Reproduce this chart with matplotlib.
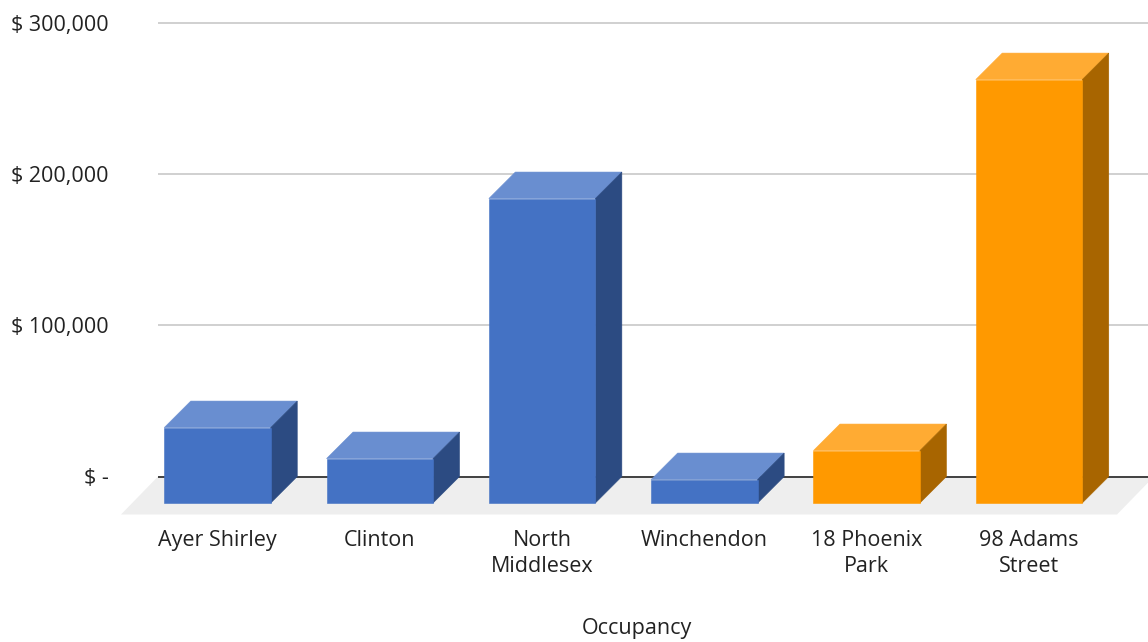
import matplotlib
matplotlib.use("Agg")
import matplotlib.pyplot as plt

categories = ["Ayer Shirley", "Clinton", "North\nMiddlesex", "Winchendon", "18 Phoenix\nPark", "98 Adams\nStreet"]
values = [49900, 29400, 201400, 15500, 34700, 280100]
face_colors = ["#4472C4"] * 4 + ["#FF9900"] * 2
top_colors = ["#698ED0"] * 4 + ["#FFAB33"] * 2
side_colors = ["#2C4B82"] * 4 + ["#A86500"] * 2
y_ticks = [0, 100000, 200000, 300000]
y_labels = ["$ -", "$ 100,000", "$ 200,000", "$ 300,000"]

W, H = 1148, 642
plt.rcParams["font.family"] = ["Open Sans", "DejaVu Sans"]

fig = plt.figure(figsize=(W / 100, H / 100), dpi=100)
# axes: left edge is the back wall, top is 300k, bottom is the front of the floor
ax = fig.add_axes([158 / W, 1 - 514.5 / H, 990 / W, (514.5 - 23) / H])

px_per_cat = 162.3
px_per_val = 453.5 / 300000
ax.set_xlim((158 - 217.5) / px_per_cat, (1148 - 217.5) / px_per_cat)
ax.set_ylim(-38 / px_per_val, 300000)

bar_w = 106.5 / px_per_cat
dx = 26.5 / px_per_cat
dy = 26.5 / px_per_val

# floor
floor_dx = 37 / px_per_cat
floor_dy = 38 / px_per_val
right_front = (1117 - 217.5) / px_per_cat
left_back = (158 - 217.5) / px_per_cat
ax.fill([left_back - floor_dx, right_front, right_front + floor_dx, left_back],
        [-floor_dy, -floor_dy, 0, 0], color="#EEEEEE", lw=0, clip_on=False, zorder=1)

ax.hlines(y_ticks[1:], left_back, ax.get_xlim()[1], color="#D0D0D0", lw=1.4, zorder=1, clip_on=False)
ax.hlines(0, left_back, ax.get_xlim()[1], color="#333333", lw=1.3, zorder=2)

for i, v in enumerate(values):
    x0 = i - bar_w / 2
    x1 = i + bar_w / 2
    ax.fill([x0, x1, x1 + dx, x0 + dx], [v - dy, v - dy, v, v], fc=top_colors[i], ec=top_colors[i], lw=0.4, zorder=3)
    ax.fill([x1, x1 + dx, x1 + dx, x1], [-dy, 0, v, v - dy], fc=side_colors[i], ec=side_colors[i], lw=0.4, zorder=3)
    ax.bar(i, v, width=bar_w, bottom=-dy, color=face_colors[i], ec=face_colors[i], lw=0.4, zorder=4)

ax.set_yticks(y_ticks)
ax.set_yticklabels(y_labels, fontsize=15.5, color="#222222")
ax.tick_params(axis="y", length=0, pad=35.5)
ax.set_xticks(range(len(categories)))
ax.set_xticklabels(categories, fontsize=15.5, color="#222222", linespacing=1.3)
ax.tick_params(axis="x", length=0, pad=11)
ax.set_xlabel("Occupancy", fontsize=15.5, color="#222222")
ax.xaxis.set_label_coords((637 - 158) / 990, (514.5 - 618) / 491.5)

for s in ax.spines.values():
    s.set_visible(False)

fig.savefig("out.png", dpi=100)
